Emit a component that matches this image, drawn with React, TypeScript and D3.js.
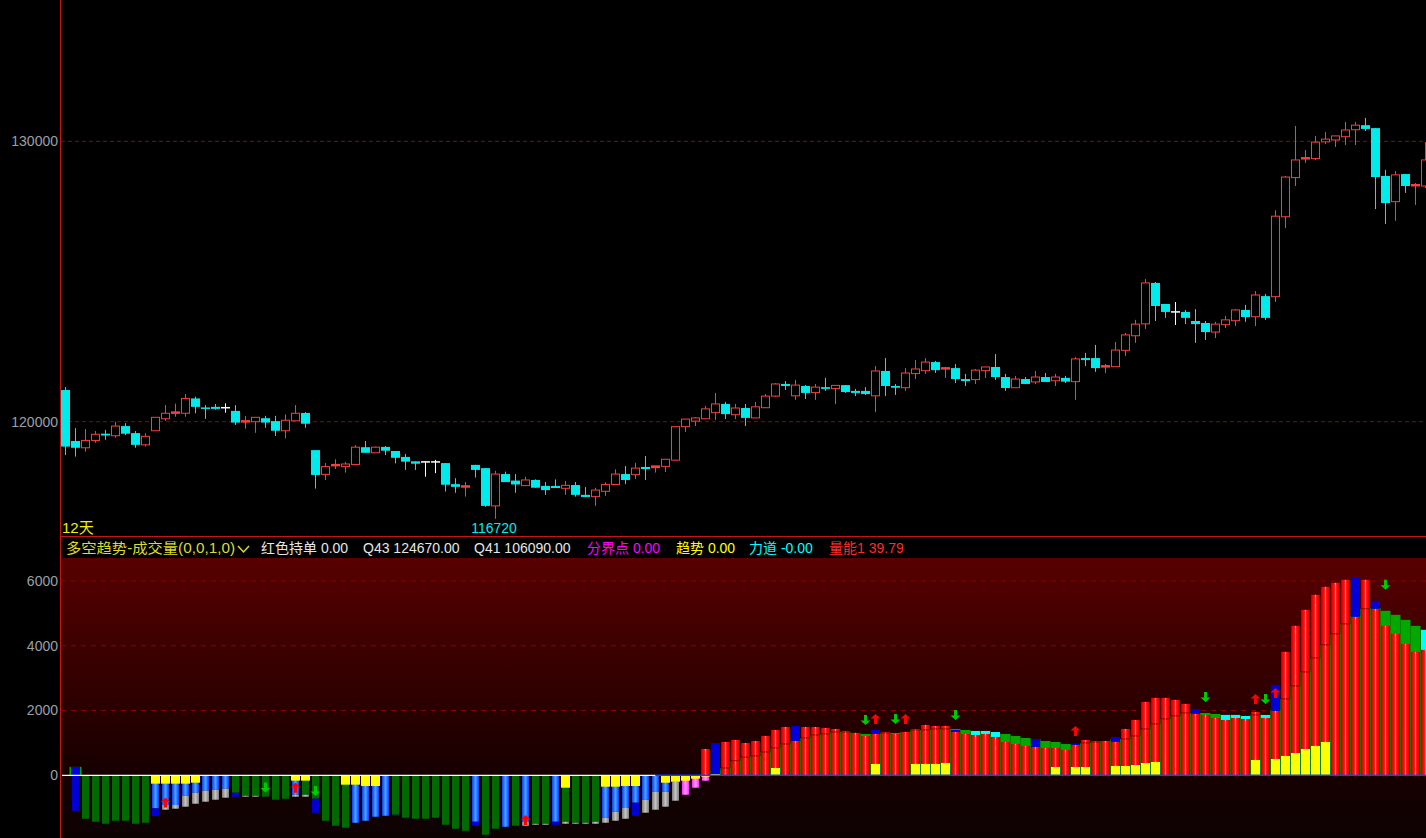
import * as d3 from "d3";

// ---- price candles (one per day) ----
const opens = [
  121090, 119340, 119110, 119360, 119590, 119520, 119850, 119610, 119210, 119690,
  120100, 120270, 120290, 120800, 120490, 120510, 120480, 120370, 119970, 120000,
  120120, 120020, 119690, 120030, 120300, 119030, 118210, 118470, 118470, 118540,
  119130, 118940, 119140, 119000, 118800, 118650, 118630, 118630, 118590, 117880,
  117760, 118530, 118420, 117150, 118220, 118000, 117830, 118020, 117820, 117820,
  117740, 117850, 117520, 117460, 117640, 117870, 118220, 118200, 118460, 118400,
  118480, 118690, 119830, 120020, 120100, 120310, 120610, 120240, 120470, 120130,
  120480, 120880, 121300, 120890, 121230, 121000, 121190, 121140, 121260, 121060,
  121060, 120890, 121750, 121230, 121170, 121660, 121760, 122060, 121800, 121850,
  121470, 121450, 121760, 121890, 121540, 121170, 121470, 121370, 121540, 121410,
  121510, 121380, 122200, 122200, 121850, 121900, 122470, 122980, 123400, 124850,
  124100, 123820, 123820, 123500, 123430, 123110, 123370, 123510, 123890, 123650,
  124380, 124360, 127230, 128660, 129310, 129360, 129980, 130050, 130170, 130430,
  130600, 130490, 128720, 127780, 128790, 128330, 128350,
];
const highs = [
  121190, 119780, 119750, 119680, 119720, 120000, 119950, 119680, 119610, 120150,
  120570, 120620, 120950, 120860, 120570, 120610, 120630, 120570, 120200, 120150,
  120200, 120200, 120250, 120570, 120330, 119030, 118590, 118720, 118630, 119200,
  119340, 119150, 119170, 119000, 118900, 118650, 118630, 118700, 118590, 118080,
  117950, 118530, 118420, 118330, 118300, 118220, 118130, 118040, 117950, 118040,
  117990, 117950, 117780, 117760, 117940, 118380, 118490, 118600, 118830, 118480,
  118720, 119850, 120090, 120160, 120540, 120990, 120680, 120610, 120610, 120680,
  120950, 121330, 121400, 121440, 121260, 121300, 121510, 121250, 121260, 121130,
  121190, 121920, 122200, 121300, 121850, 122130, 122200, 122100, 121890, 121990,
  121650, 121820, 121890, 122340, 121650, 121580, 121540, 121750, 121680, 121650,
  121580, 122240, 122380, 122660, 121990, 122760, 123080, 123540, 124990, 124880,
  124100, 124170, 123890, 123920, 123500, 123470, 123680, 123920, 124070, 124560,
  124460, 127470, 128720, 130570, 129680, 130200, 130340, 130200, 130720, 130720,
  130870, 130490, 128940, 128900, 128790, 128460, 129970,
];
const lows = [
  118860, 118810, 118980, 119280, 119380, 119450, 119540, 119110, 119150, 119690,
  120030, 120170, 120170, 120290, 120100, 120410, 120310, 119890, 119760, 119620,
  119790, 119510, 119430, 120030, 119790, 117730, 118020, 118390, 118270, 118540,
  118940, 118940, 118860, 118580, 118360, 118360, 118130, 118250, 117630, 117590,
  117460, 118100, 117120, 116720, 117950, 117590, 117830, 117760, 117520, 117750,
  117520, 117460, 117450, 117150, 117490, 117870, 117880, 118050, 118020, 118270,
  118290, 118690, 119650, 119850, 120100, 120060, 120090, 120090, 119850, 120130,
  120480, 120850, 121090, 120750, 120780, 120750, 121060, 120610, 120990, 120880,
  120920, 120330, 120880, 120920, 121060, 121470, 121650, 121680, 121510, 121330,
  121230, 121300, 121510, 121440, 121060, 121170, 121300, 121300, 121370, 121230,
  121330, 120750, 121920, 121720, 121680, 121900, 122270, 122730, 123220, 123500,
  123610, 123360, 123390, 122730, 122830, 122900, 123250, 123320, 123470, 123320,
  123540, 124170, 126820, 128350, 129200, 129310, 129900, 129790, 129860, 129860,
  130380, 127510, 126970, 127080, 128100, 127660, 128280,
];
const closes = [
  119150, 119110, 119360, 119570, 119530, 119850, 119590, 119210, 119500, 120150,
  120290, 120320, 120800, 120510, 120450, 120440, 120480, 119970, 120020, 120150,
  119970, 119690, 120050, 120290, 119930, 118190, 118470, 118530, 118560, 119130,
  118940, 119130, 119010, 118770, 118640, 118570, 118630, 118630, 117860, 117790,
  117810, 118360, 117150, 118220, 117950, 117870, 118020, 117760, 117680, 117750,
  117840, 117520, 117450, 117680, 117870, 118220, 118020, 118420, 118390, 118480,
  118720, 119830, 120090, 120130, 120440, 120610, 120260, 120470, 120130, 120510,
  120880, 121300, 121230, 121260, 120990, 121190, 121130, 121250, 121020, 120990,
  120950, 121750, 121230, 121170, 121680, 121820, 122060, 121780, 121850, 121470,
  121400, 121780, 121890, 121540, 121160, 121470, 121300, 121540, 121370, 121540,
  121380, 122170, 122130, 121850, 121920, 122480, 123010, 123390, 124850, 124030,
  123820, 123820, 123610, 123390, 123110, 123390, 123540, 123890, 123640, 124420,
  123610, 127250, 128680, 129310, 129380, 129970, 130080, 130200, 130420, 130600,
  130460, 128680, 127730, 128760, 128350, 128390, 129310,
];
const priceTicks = [120000, 130000];
const lowMark = { index: 43, label: "116720" };

// ---- 多空趋势-成交量 indicator ----
// red bars from index posStart on
const posStart = 64;
const posVals = [
  813, 0, 1029, 1091, 998, 1060, 1215, 1400, 1493, 1060,
  1493, 1493, 1462, 1431, 1369, 1308, 1215, 1277, 1338, 1277,
  1338, 1431, 1555, 1524, 1524, 1338, 1277, 1246, 1277, 1184,
  1029, 968, 906, 875, 844, 844, 782, 937, 1091, 1060,
  1060, 1029, 1431, 1709, 2266, 2389, 2389, 2328, 2204, 1895,
  1864, 1771, 1709, 1771, 1740, 1957, 1771, 1988, 3811, 4615,
  5110, 5573, 5820, 5944, 6037, 4893, 6037, 5140, 4615, 4368,
  4059, 3811, 3873,
];
// green trend level behind the red bars, from posStart on
const greenVals = [
  0, 150, 226, 450, 560, 597, 720, 844, 968, 1060,
  1153, 1246, 1277, 1338, 1338, 1308, 1277, 1277, 1308, 1308,
  1338, 1400, 1400, 1431, 1431, 1431, 1400, 1369, 1369, 1277,
  1277, 1215, 1153, 1122, 1060, 1029, 968, 968, 998, 1029,
  1060, 1122, 1122, 1215, 1431, 1586, 1740, 1833, 1926, 1926,
  1926, 1895, 1864, 1864, 1833, 1864, 1864, 2018, 2358, 2760,
  3193, 3626, 4028, 4368, 4677, 4924, 5140, 5171, 5079, 4955,
  4800, 4615, 4491,
];
const greenExtra: [number, number][] = [[1, 260]];
// negative bars, index 0..64; kind: g green, b blue, d dark blue, m magenta
const negVals = [
  0, -1095, -1342, -1434, -1496, -1403, -1403, -1496, -1465, -1020,
  -918, -918, -630, -538, -476, -445, -414, -538, -630, -630,
  -661, -754, -723, -600, -600, -723, -1403, -1558, -1620, -1465,
  -1403, -1279, -1249, -1218, -1311, -1342, -1342, -1311, -1527, -1651,
  -1713, -1434, -1836, -1651, -1589, -1558, -1434, -1496, -1496, -1434,
  -1434, -1465, -1465, -1434, -1311, -1125, -1010, -847, -754, -507,
  -507, -198, -600, -383, -167,
];
const negKinds = [
  "", "d", "g", "g", "g", "g", "g", "g", "g", "b",
  "b", "b", "b", "b", "b", "b", "b", "g", "g", "g",
  "g", "g", "g", "b", "g", "g", "g", "g", "g", "b",
  "b", "b", "b", "g", "g", "g", "g", "g", "g", "g",
  "g", "b", "g", "g", "b", "g", "b", "g", "g", "b",
  "g", "g", "g", "g", "b", "b", "b", "b", "b", "b",
  "b", "b", "m", "m", "m",
];
// tails below the negative bars: [index, end value, kind s gray / d dark blue]
const tails: [number, number, string][] = [
  [9, -1258, "d"], [10, -1063, "s"], [11, -1032, "s"], [12, -970, "s"], [13, -878, "s"],
  [14, -816, "s"], [15, -754, "s"], [16, -692, "s"], [17, -661, "d"], [18, -661, "s"],
  [19, -661, "s"], [23, -661, "s"], [24, -661, "s"], [25, -1156, "d"], [33, -1249, "d"],
  [41, -1558, "d"], [46, -1558, "s"], [47, -1527, "s"], [48, -1527, "s"], [49, -1527, "d"],
  [50, -1496, "s"], [51, -1496, "s"], [52, -1496, "s"], [53, -1496, "s"], [54, -1465, "s"],
  [55, -1403, "s"], [56, -1342, "s"], [57, -1249, "d"], [58, -1156, "s"], [59, -1063, "s"],
  [60, -970, "s"], [61, -785, "s"],
];
// caps above the red bars: [index, top value, kind B blue / C cyan]
const caps: [number, number, string][] = [
  [1, 260, "B"], [65, 998, "B"], [73, 1524, "B"], [81, 1400, "B"], [89, 1400, "B"],
  [91, 1369, "C"], [92, 1369, "C"], [93, 1338, "C"], [97, 1122, "B"], [101, 968, "B"],
  [105, 1184, "B"], [113, 2049, "B"], [116, 1864, "C"], [117, 1864, "C"], [118, 1833, "C"],
  [120, 1864, "C"], [121, 2791, "B"], [129, 6099, "B"], [131, 5388, "B"], [136, 4491, "C"],
];
// yellow volume bars: [index, value]
const yellows: [number, number][] = [
  [9, -258], [10, -258], [11, -258], [12, -258], [13, -228], [23, -165], [24, -165],
  [28, -289], [29, -289], [30, -330], [31, -330], [50, -383], [54, -352], [55, -352],
  [56, -330], [57, -330], [60, -229], [61, -198], [62, -167], [63, -105], [64, -40],
  [65, 40], [71, 226], [81, 350], [85, 350], [86, 350], [87, 350], [88, 381],
  [99, 257], [101, 257], [102, 257], [105, 288], [106, 287], [107, 318], [108, 380],
  [109, 411], [119, 473], [121, 504], [122, 597], [123, 689], [124, 813], [125, 906],
  [126, 1029],
];
const upArrows: [number, number][] = [
  [10, -841], [23, -383], [46, -1382], [81, 1740], [84, 1740], [101, 1369], [119, 2358], [121, 2544],
];
const downArrows: [number, number][] = [
  [20, -377], [25, -485], [80, 1709], [83, 1740], [89, 1864], [114, 2420], [120, 2358], [132, 5883],
];
const volTicks = [0, 2000, 4000, 6000];
const whiteZeroUntil = 59;

const W = 1426, H = 838;
const AXIS_X = 61;
const RED = "#ff3c3c", CYAN = "#00ecec";
const FONT = "'Liberation Sans', Arial, 'Noto Sans CJK SC', sans-serif";

export default function App() {
  const n = opens.length;
  const x = d3.scaleLinear().domain([0, n - 1]).range([65.5, 65.5 + 10 * (n - 1)]);
  const yP = d3.scaleLog().domain([120000, 130000]).range([421.7, 141.3]);
  const yV = d3.scaleLinear().domain([0, 6000]).range([775.3, 581]);
  const y0 = yV(0);

  const negFill: Record<string, string> = { g: "#006a00", b: "url(#blueG)", d: "#0000d2", m: "url(#magG)" };

  const arrowUp = (cx: number, cy: number) =>
    `M${cx},${cy - 5}L${cx + 5},${cy - 0.5}L${cx + 1.5},${cy - 0.5}L${cx + 1.5},${cy + 5}L${cx - 1.5},${cy + 5}L${cx - 1.5},${cy - 0.5}L${cx - 5},${cy - 0.5}Z`;
  const arrowDown = (cx: number, cy: number) =>
    `M${cx},${cy + 5}L${cx + 5},${cy + 0.5}L${cx + 1.5},${cy + 0.5}L${cx + 1.5},${cy - 5}L${cx - 1.5},${cy - 5}L${cx - 1.5},${cy + 0.5}L${cx - 5},${cy + 0.5}Z`;

  return (
    <div style={{ width: W, height: H, background: "#000", overflow: "hidden" }}>
      <style>{`body{margin:0;background:#000}`}</style>
      <svg width={W} height={H} style={{ display: "block", fontFamily: FONT }}>
        <defs>
          <linearGradient id="bgG" x1="0" y1="0" x2="0" y2="1">
            <stop offset="0" stopColor="#580000" />
            <stop offset="0.77" stopColor="#170000" />
            <stop offset="1" stopColor="#0d0202" />
          </linearGradient>
          <linearGradient id="redG" x1="0" y1="0" x2="1" y2="0">
            <stop offset="0" stopColor="#a80000" />
            <stop offset="0.14" stopColor="#f00000" />
            <stop offset="0.38" stopColor="#ff1212" />
            <stop offset="0.5" stopColor="#ff8a8a" />
            <stop offset="0.62" stopColor="#ff1212" />
            <stop offset="0.86" stopColor="#f00000" />
            <stop offset="1" stopColor="#a80000" />
          </linearGradient>
          <linearGradient id="blueG" x1="0" y1="0" x2="1" y2="0">
            <stop offset="0" stopColor="#0a3cff" />
            <stop offset="0.5" stopColor="#46a6ff" />
            <stop offset="1" stopColor="#0a3cff" />
          </linearGradient>
          <linearGradient id="grayG" x1="0" y1="0" x2="1" y2="0">
            <stop offset="0" stopColor="#7c7c7c" />
            <stop offset="0.5" stopColor="#c4c4c4" />
            <stop offset="1" stopColor="#7c7c7c" />
          </linearGradient>
          <linearGradient id="magG" x1="0" y1="0" x2="1" y2="0">
            <stop offset="0" stopColor="#ff28ff" />
            <stop offset="0.5" stopColor="#ff9cff" />
            <stop offset="1" stopColor="#ff28ff" />
          </linearGradient>
          <clipPath id="subClip">
            <rect x={AXIS_X + 1} y={558} width={W - AXIS_X - 1} height={H - 558} />
          </clipPath>
        </defs>

        {/* price panel grid + labels */}
        {priceTicks.map((t) => (
          <g key={t}>
            <line x1={AXIS_X} x2={W} y1={yP(t)} y2={yP(t)} stroke="#8c0a0a" strokeDasharray="4 3" />
            <text x={58} y={yP(t)} dy="0.35em" textAnchor="end" fontSize={14} fill="#9aa0a8">
              {t}
            </text>
          </g>
        ))}

        {/* candles */}
        {opens.map((o, i) => {
          const c = closes[i];
          const cx = x(i);
          const yo = yP(o), yc = yP(c);
          const top = Math.min(yo, yc);
          const h = Math.abs(yo - yc);
          const kind = c > o ? "up" : c < o ? "down" : "flat";
          const col = kind === "up" ? RED : kind === "down" ? CYAN : "#ffffff";
          return (
            <g key={i}>
              <line x1={cx} x2={cx} y1={yP(highs[i])} y2={yP(lows[i])} stroke={col} strokeWidth={1} />
              {kind === "up" &&
                (h < 2.5 ? (
                  <rect x={cx - 4.5} y={top - 1} width={9} height={Math.max(h, 2) + 0.5} fill={RED} />
                ) : (
                  <rect x={cx - 4} y={top} width={8} height={h} fill="#000" stroke={RED} strokeWidth={1} />
                ))}
              {kind === "down" && (
                <rect x={cx - 4.5} y={top} width={9} height={Math.max(h, 1.5)} fill={CYAN} />
              )}
              {kind === "flat" && <line x1={cx - 4.5} x2={cx + 4.5} y1={yo} y2={yo} stroke="#fff" strokeWidth={1.5} />}
            </g>
          );
        })}
        <text
          x={x(lowMark.index) - 1.5}
          y={yP(lows[lowMark.index]) + 14}
          fontSize={14}
          fill={CYAN}
          textAnchor="middle"
        >
          {lowMark.label}
        </text>
        <text x={62} y={533} fontSize={15} fill="#f0f000">
          12天
        </text>

        {/* separators */}
        <line x1={AXIS_X} x2={W} y1={536.5} y2={536.5} stroke="#c81414" />

        {/* legend row */}
        <g fontSize={14}>
          <text x={66} y={553} fill="#dcdc2a" textLength={169} lengthAdjust="spacingAndGlyphs">
            多空趋势-成交量(0,0,1,0)
          </text>
          <path d="M238,546 L243.5,552 L249,546" fill="none" stroke="#dcdc2a" strokeWidth={1.5} />
          <text x={261} y={553} fill="#e6e6e6">红色持单 0.00</text>
          <text x={363} y={553} fill="#e6e6e6">Q43 124670.00</text>
          <text x={474} y={553} fill="#e6e6e6">Q41 106090.00</text>
          <text x={587} y={553} fill="#ff00ff">分界点 0.00</text>
          <text x={676} y={553} fill="#ffff00">趋势 0.00</text>
          <text x={749} y={553} fill="#00ffff">力道 -0.00</text>
          <text x={829} y={553} fill="#ff2a2a">量能1 39.79</text>
        </g>

        {/* indicator panel */}
        <rect x={AXIS_X + 1} y={558} width={W - AXIS_X - 1} height={H - 558} fill="url(#bgG)" />
        {volTicks.map((t) => (
          <g key={t}>
            {t > 0 && (
              <line x1={AXIS_X} x2={W} y1={yV(t)} y2={yV(t)} stroke="#8e0000" strokeDasharray="5 5" />
            )}
            <text x={58} y={yV(t)} dy="0.35em" textAnchor="end" fontSize={14} fill="#9aa0a8">
              {t}
            </text>
          </g>
        ))}

        <g clipPath="url(#subClip)">
          {/* green trend level */}
          {greenVals.map((g, k) => {
            const i = posStart + k;
            return g > 0 ? <rect key={"g" + i} x={x(i) - 5} y={yV(g)} width={10} height={y0 - yV(g)} fill="#00a800" /> : null;
          })}
          {greenExtra.map(([i, g]) => (
            <rect key={"ge" + i} x={x(i) - 6} y={yV(g)} width={12} height={y0 - yV(g)} fill="#00a800" />
          ))}
          {/* red bars */}
          {posVals.map((v, k) => {
            const i = posStart + k;
            if (v <= 0) return null;
            const g = greenVals[k];
            return (
              <g key={"r" + i}>
                <rect x={x(i) - 4.5} y={yV(v)} width={9} height={y0 - yV(v)} fill="url(#redG)" />
                {g > 0 && g < v && (
                  <line x1={x(i) - 4.5} x2={x(i) + 4.5} y1={yV(g)} y2={yV(g)} stroke="#8a0000" strokeWidth={1} />
                )}
              </g>
            );
          })}
          {caps.map(([i, top, kind]) => {
            const base = i >= posStart ? posVals[i - posStart] : 0;
            return (
              <rect
                key={"c" + i}
                x={x(i) - 4.5}
                y={yV(top)}
                width={9}
                height={yV(base) - yV(top)}
                fill={kind === "B" ? "#0000d8" : "#00ffff"}
              />
            );
          })}
          {/* negative bars */}
          {negVals.map((v, i) =>
            v < 0 ? (
              <rect key={"n" + i} x={x(i) - 3.5} y={y0} width={7} height={yV(v) - y0} fill={negFill[negKinds[i]]} />
            ) : null
          )}
          {tails.map(([i, end, kind]) => (
            <rect
              key={"t" + i}
              x={x(i) - 3.5}
              y={yV(negVals[i])}
              width={7}
              height={yV(end) - yV(negVals[i])}
              fill={kind === "s" ? "url(#grayG)" : "#0000d2"}
            />
          ))}
          {yellows.map(([i, v]) => (
            <rect
              key={"y" + i}
              x={x(i) - 4.5}
              y={Math.min(y0, yV(v))}
              width={9}
              height={Math.abs(yV(v) - y0)}
              fill="#ffff00"
            />
          ))}
          {/* zero line */}
          <line x1={AXIS_X} x2={x(whiteZeroUntil)} y1={y0} y2={y0} stroke="#ffffff" strokeWidth={1.2} />
          <line x1={x(whiteZeroUntil)} x2={W} y1={y0} y2={y0} stroke="#1e3cff" strokeWidth={1.6} />
          {upArrows.map(([i, v]) => (
            <path key={"u" + i} d={arrowUp(x(i), yV(v))} fill="#ff0000" />
          ))}
          {downArrows.map(([i, v]) => (
            <path key={"d" + i} d={arrowDown(x(i), yV(v))} fill="#00c800" />
          ))}
        </g>

        {/* left axis line */}
        <line x1={AXIS_X - 0.5} x2={AXIS_X - 0.5} y1={0} y2={H} stroke="#c81414" />
      </svg>
    </div>
  );
}
